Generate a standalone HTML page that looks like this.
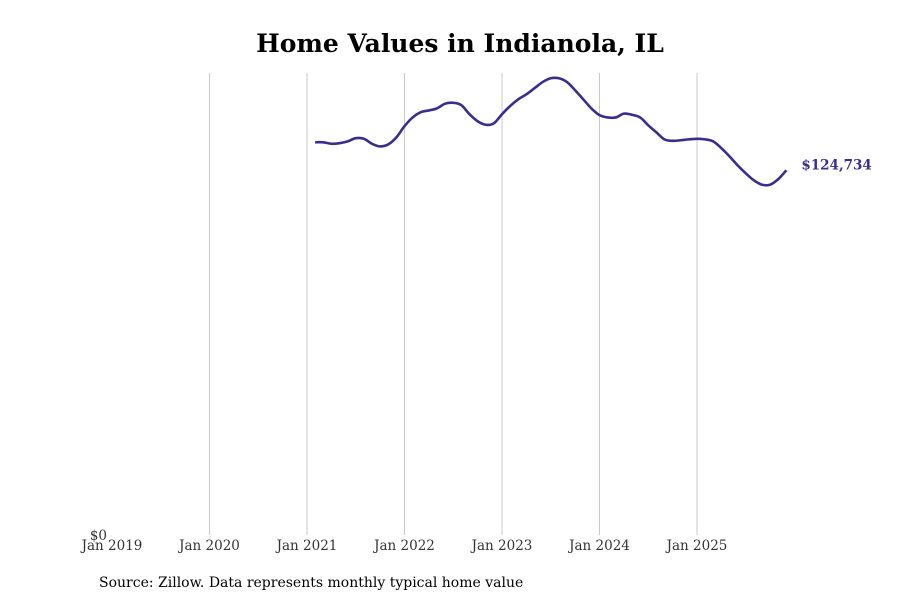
<!DOCTYPE html>
<html><head><meta charset="utf-8"><style>
body{margin:0;background:#fff;width:900px;height:600px;overflow:hidden}
svg{font-family:"DejaVu Serif","Liberation Serif",serif}
</style></head><body>
<svg id="chart" width="900" height="600">
<text x="460" y="52" text-anchor="middle" font-size="25" font-weight="bold" fill="#000">Home Values in Indianola, IL</text>
<g id="grid"></g><g id="xaxis"></g>
<text x="107" y="540" text-anchor="end" font-size="13.5" fill="#333">$0</text>
<path id="line" fill="none" stroke="#3a2d8f" stroke-width="2.6"/>
<text id="endlabel" font-size="13.5" font-weight="bold" fill="#3a2d8f"></text>
<text x="99" y="587" font-size="14" fill="#000">Source: Zillow. Data represents monthly typical home value</text>
</svg>
<script>
const tickLabels=["Jan 2019","Jan 2020","Jan 2021","Jan 2022","Jan 2023","Jan 2024","Jan 2025"];
const startMonth=25;
const values=[134.3,134.3,133.8,134.0,134.6,135.7,135.5,133.8,132.9,133.6,136.0,139.8,142.8,144.6,145.2,145.9,147.5,147.8,147.0,143.9,141.5,140.3,140.8,143.9,146.7,149.0,150.7,152.8,154.9,156.2,156.2,154.9,152.1,149.0,145.9,143.6,142.8,142.8,144.1,143.7,142.8,140.1,137.7,135.3,134.8,135.0,135.3,135.5,135.3,134.6,132.3,129.5,126.4,123.7,121.3,119.8,119.8,121.7,124.734];
const lastLabel="$124,734";
const NS="http://www.w3.org/2000/svg";
const x=m=>112+m*(97.5/12);
const y=v=>535-v*(462/158);
const grid=document.getElementById('grid'),xa=document.getElementById('xaxis');
tickLabels.forEach((t,i)=>{
  const px=x(i*12);
  if(i>0){const l=document.createElementNS(NS,'line');
  l.setAttribute('x1',px);l.setAttribute('x2',px);l.setAttribute('y1',73);l.setAttribute('y2',535);
  l.setAttribute('stroke','#c8c8c8');l.setAttribute('stroke-width','1');
  
  
  grid.appendChild(l);}
  const tx=document.createElementNS(NS,'text');
  tx.setAttribute('x',px);tx.setAttribute('y',550);tx.setAttribute('text-anchor','middle');
  tx.setAttribute('font-size','13.5');tx.setAttribute('fill','#333');tx.textContent=t;
  
  
  xa.appendChild(tx);
});
const pts=values.map((v,i)=>[x(startMonth+i),y(v*1)]);
let d='M'+pts[0][0]+','+pts[0][1];
for(let i=0;i<pts.length-1;i++){
  const p0=pts[Math.max(0,i-1)],p1=pts[i],p2=pts[i+1],p3=pts[Math.min(pts.length-1,i+2)];
  const c1=[p1[0]+(p2[0]-p0[0])/6,p1[1]+(p2[1]-p0[1])/6];
  const c2=[p2[0]-(p3[0]-p1[0])/6,p2[1]-(p3[1]-p1[1])/6];
  d+=' C'+c1+' '+c2+' '+p2;
}
document.getElementById('line').setAttribute('d',d);
const last=pts[pts.length-1];
const el=document.getElementById('endlabel');
el.setAttribute('x',last[0]+15);el.setAttribute('y',last[1]-1);el.textContent=lastLabel;
</script>
</body></html>
